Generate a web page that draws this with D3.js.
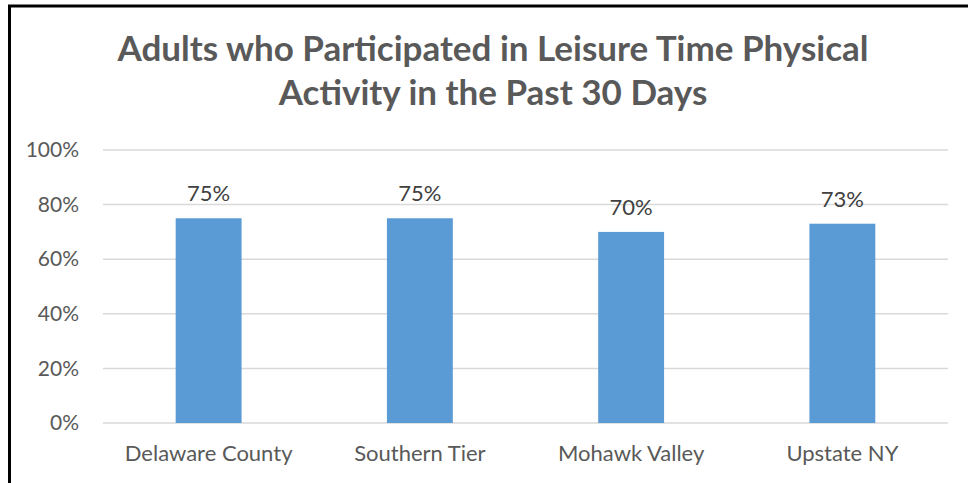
<!DOCTYPE html>
<html>
<head>
<meta charset="utf-8">
<script src="https://cdn.jsdelivr.net/npm/d3@7"></script>
<style>
  body { margin: 0; background: #fff; }
  svg { display: block; font-family: Lato, "Open Sans", sans-serif; }
</style>
</head>
<body>
<svg></svg>
<script>
        const categories = ["Delaware County", "Southern Tier", "Mohawk Valley", "Upstate NY"];
        const values = [0.75, 0.75, 0.70, 0.73];
        const valueLabels = ["75%", "75%", "70%", "73%"];
        const yTicks = [0, 0.2, 0.4, 0.6, 0.8, 1.0];
        const titleLines = ["Adults who Participated in Leisure Time Physical", "Activity in the Past 30 Days"];

        const svgWidth = 968;
        const svgHeight = 483;

        const svg = d3.select("svg")
            .attr("width", svgWidth)
            .attr("height", svgHeight);

        // frame of the pasted chart (only top and left edges visible)
        svg.append("line")
            .attr("x1", 8).attr("x2", svgWidth)
            .attr("y1", 6).attr("y2", 6)
            .attr("stroke", "#000").attr("stroke-width", 3);
        svg.append("line")
            .attr("x1", 9.5).attr("x2", 9.5)
            .attr("y1", 5).attr("y2", svgHeight)
            .attr("stroke", "#000").attr("stroke-width", 3);

        const plot = { left: 103, right: 948, top: 150, bottom: 423 };

        const x = d3.scaleBand()
            .domain(categories)
            .range([plot.left, plot.right])
            .padding(0);

        const y = d3.scaleLinear()
            .domain([0, 1])
            .range([plot.bottom, plot.top]);

        // title
        svg.append("g")
            .selectAll("text")
            .data(titleLines)
            .enter().append("text")
            .attr("x", 493)
            .attr("y", (d, i) => 61 + i * 44)
            .attr("text-anchor", "middle")
            .attr("font-size", 35)
            .attr("font-weight", "bold")
            .attr("fill", "#595959")
            .text(d => d);

        // gridlines
        svg.append("g")
            .selectAll("line")
            .data(yTicks)
            .enter().append("line")
            .attr("x1", plot.left)
            .attr("x2", plot.right)
            .attr("y1", d => y(d))
            .attr("y2", d => y(d))
            .attr("stroke", "#d9d9d9")
            .attr("stroke-width", 1.5);

        // y axis labels
        const yAxis = d3.axisLeft(y)
            .tickValues(yTicks)
            .tickFormat(d3.format(".0%"))
            .tickSize(0)
            .tickPadding(24);

        svg.append("g")
            .attr("transform", `translate(${plot.left},0)`)
            .call(yAxis)
            .call(g => g.select(".domain").remove())
            .selectAll("text")
            .attr("font-size", 21)
            .attr("font-family", "Lato, sans-serif")
            .attr("fill", "#595959");

        // x axis labels
        const xAxis = d3.axisBottom(x)
            .tickSize(0)
            .tickPadding(22);

        svg.append("g")
            .attr("transform", `translate(0,${plot.bottom})`)
            .call(xAxis)
            .call(g => g.select(".domain").remove())
            .selectAll("text")
            .attr("font-size", 22)
            .attr("font-family", "Lato, sans-serif")
            .attr("fill", "#595959");

        // bars
        const barWidth = x.bandwidth() * 0.312;

        svg.append("g")
            .selectAll("rect")
            .data(values)
            .enter().append("rect")
            .attr("x", (d, i) => x(categories[i]) + (x.bandwidth() - barWidth) / 2)
            .attr("y", d => y(d))
            .attr("width", barWidth)
            .attr("height", d => y(0) - y(d))
            .attr("fill", "#5b9bd5");

        // value labels
        svg.append("g")
            .selectAll("text")
            .data(values)
            .enter().append("text")
            .attr("x", (d, i) => x(categories[i]) + x.bandwidth() / 2)
            .attr("y", d => y(d) - 17)
            .attr("text-anchor", "middle")
            .attr("font-size", 22)
            .attr("fill", "#404040")
            .text((d, i) => valueLabels[i]);
</script>
</body>
</html>
